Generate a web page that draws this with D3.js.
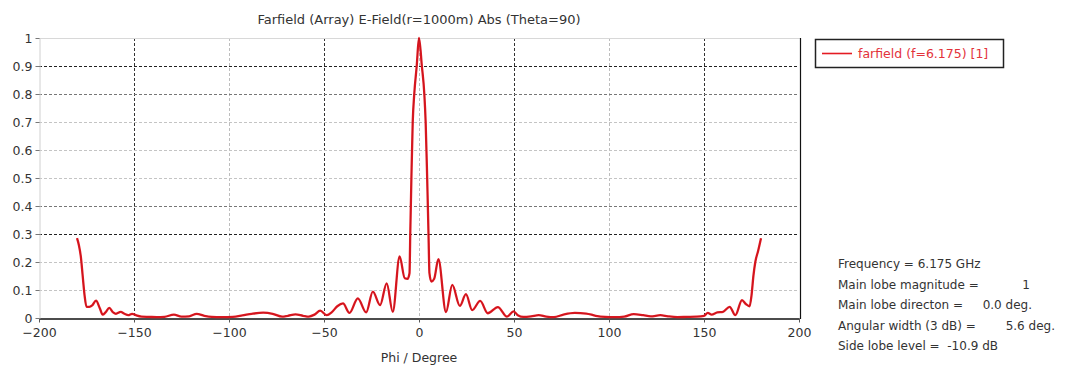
<!DOCTYPE html>
<html>
<head>
<meta charset="utf-8">
<script src="https://cdn.jsdelivr.net/npm/d3@7"></script>
<style>
  html, body { margin: 0; padding: 0; background: #fff; }
  svg { display: block; }
  text { font-family: "DejaVu Sans", sans-serif; white-space: pre; }
</style>
</head>
<body>
<svg id="chart" width="1066" height="370"></svg>
<script>
// Farfield cut at Theta = 90: |E| (normalised) versus Phi in degrees
const phi = [
  -180, -179, -178, -177, -176, -175, -173.5, -172, -170, -168, -166.5, -165, -163, -161, -159.5,
  -157, -155, -153, -151, -149, -146, -142, -138, -134, -129, -125, -121, -117, -113, -109,
  -104, -98, -93, -88, -82, -77, -72, -69, -65, -61, -58, -55, -52, -48.5, -46,
  -43, -40, -36.6, -32.2, -27.8, -24.3, -20.5, -17, -13.8, -10.2, -7.5, -6, -5, -4.6, -4,
  -3.3, -2.5, -1.2, 0, 1.5, 2.8, 3.5, 4.3, 5, 5.5, 6.5, 8, 10.2, 14.2, 17.5,
  21.5, 24.7, 28, 32.2, 36.2, 41.5, 46.3, 49.8, 52, 55, 59, 63, 67, 71, 76,
  82, 88, 93, 98, 103, 108, 113, 118, 122, 127, 131, 136, 141, 146, 150,
  152, 154, 157, 160, 163.5, 166.5, 170, 172, 174, 175, 176, 177, 178.5, 180
];
const farfield = [
  0.285, 0.26, 0.22, 0.15, 0.08, 0.04, 0.04, 0.045, 0.062, 0.035, 0.012, 0.02, 0.036, 0.02, 0.015,
  0.022, 0.015, 0.01, 0.015, 0.01, 0.005, 0.004, 0.003, 0.004, 0.012, 0.005, 0.006, 0.015, 0.008, 0.004,
  0.003, 0.004, 0.009, 0.015, 0.019, 0.015, 0.005, 0.008, 0.013, 0.008, 0.005, 0.012, 0.026, 0.01, 0.02,
  0.042, 0.052, 0.018, 0.07, 0.02, 0.094, 0.046, 0.124, 0.022, 0.22, 0.142, 0.14, 0.16, 0.3, 0.5,
  0.7, 0.8, 0.9, 1.0, 0.9, 0.8, 0.7, 0.5, 0.3, 0.16, 0.13, 0.14, 0.21, 0.021, 0.118,
  0.043, 0.085, 0.028, 0.061, 0.017, 0.039, 0.005, 0.024, 0.01, 0.004, 0.006, 0.01, 0.005, 0.003, 0.012,
  0.018, 0.016, 0.008, 0.004, 0.003, 0.005, 0.014, 0.01, 0.006, 0.01, 0.006, 0.003, 0.004, 0.005, 0.008,
  0.018, 0.012, 0.02, 0.022, 0.04, 0.01, 0.064, 0.05, 0.042, 0.08, 0.15, 0.2, 0.24, 0.285
];

const xTicks = [-200, -150, -100, -50, 0, 50, 100, 150, 200];
const yTicks = [0, 0.1, 0.2, 0.3, 0.4, 0.5, 0.6, 0.7, 0.8, 0.9, 1];

const titleText = "Farfield (Array) E-Field(r=1000m) Abs (Theta=90)";
const xLabel = "Phi / Degree";
const legendLabel = "farfield (f=6.175) [1]";
const infoLabels = ["Frequency = 6.175 GHz", "Main lobe magnitude =", "Main lobe directon =",
                    "Angular width (3 dB) =", "Side lobe level =  -10.9 dB"];
const infoValues = ["", "1", "0.0 deg.", "5.6 deg.", ""];

// Grid emphasis: darker dashed lines at these positions
const gridStrongX = [-150, -50, 50, 150];
const gridStrongY = [0.9, 0.3];
const gridMidY = [0.8, 0.4];

const svg = d3.select("#chart");
const plot = { left: 39, right: 799, top: 38, bottom: 318 };

const x = d3.scaleLinear().domain([-200, 200]).range([plot.left, plot.right]);
const y = d3.scaleLinear().domain([0, 1]).range([plot.bottom, plot.top]);

// vertical grid
svg.append("g").selectAll("line").data(xTicks.filter(d => d > -200 && d < 200)).join("line")
  .attr("x1", d => Math.round(x(d)) + 0.5).attr("x2", d => Math.round(x(d)) + 0.5)
  .attr("y1", plot.top).attr("y2", plot.bottom)
  .attr("stroke", d => gridStrongX.includes(d) ? "#333" : "#bdbdbd")
  .attr("stroke-width", 1)
  .attr("stroke-dasharray", "3,2");

// horizontal grid
svg.append("g").selectAll("line").data(yTicks.filter(d => d > 0 && d < 1)).join("line")
  .attr("x1", plot.left).attr("x2", plot.right)
  .attr("y1", d => Math.round(y(d)) + 0.5).attr("y2", d => Math.round(y(d)) + 0.5)
  .attr("stroke", d => gridStrongY.includes(d) ? "#222" : (gridMidY.includes(d) ? "#777" : "#c4c4c4"))
  .attr("stroke-width", 1)
  .attr("stroke-dasharray", "3,2");

// frame: light top/left, dark bottom/right
svg.append("line").attr("x1", plot.left).attr("x2", plot.right + 1)
  .attr("y1", plot.top + 0.5).attr("y2", plot.top + 0.5).attr("stroke", "#d8d8d8");
svg.append("line").attr("x1", plot.right + 1.5).attr("x2", plot.right + 1.5)
  .attr("y1", plot.top).attr("y2", plot.bottom + 1).attr("stroke", "#111").attr("stroke-width", 1.2);

// axes
const xAxis = svg.append("g").attr("transform", `translate(0,${plot.bottom + 0.5})`)
  .call(d3.axisBottom(x).tickValues(xTicks).tickSize(4).tickSizeOuter(0).tickFormat(d3.format("d")));
xAxis.select(".domain").attr("stroke", "#111").attr("stroke-width", 1.6);
xAxis.selectAll(".tick line").attr("stroke", "#555");
xAxis.selectAll(".tick text").attr("font-size", 12.5).attr("fill", "#333").attr("dy", "0.95em");

const yAxis = svg.append("g").attr("transform", `translate(${plot.left + 0.5},0)`)
  .call(d3.axisLeft(y).tickValues(yTicks).tickSize(4).tickSizeOuter(0)
    .tickFormat(d => d === 0 ? "0" : d === 1 ? "1" : d3.format(".1f")(d)));
yAxis.select(".domain").attr("stroke", "#d0d0d0");
yAxis.selectAll(".tick line").attr("stroke", "#777");
yAxis.selectAll(".tick text").attr("font-size", 12.5).attr("fill", "#333").attr("x", -7);

// farfield curve
const pts = phi.map((p, i) => [p, farfield[i]]);
const line = d3.line().x(d => x(d[0])).y(d => y(d[1])).curve(d3.curveMonotoneX);
svg.append("path").datum(pts).attr("d", line)
  .attr("fill", "none").attr("stroke", "#e41b23").attr("stroke-width", 2.3)
  .attr("stroke-linejoin", "round");
svg.append("path").datum(pts).attr("d", line)
  .attr("fill", "none").attr("stroke", "#9a0a14").attr("stroke-width", 0.7)
  .attr("stroke-opacity", 0.55).attr("stroke-linejoin", "round");

// title and axis label
svg.append("text").attr("x", 419).attr("y", 24).attr("text-anchor", "middle")
  .attr("font-size", 13).attr("fill", "#333").text(titleText);
svg.append("text").attr("x", 419).attr("y", 362).attr("text-anchor", "middle")
  .attr("font-size", 12.5).attr("fill", "#333").text(xLabel);

// legend
const lg = svg.append("g");
lg.append("rect").attr("x", 815.5).attr("y", 39.5).attr("width", 188).attr("height", 28)
  .attr("fill", "#fff").attr("stroke", "#222").attr("stroke-width", 1.5);
lg.append("line").attr("x1", 822).attr("x2", 852).attr("y1", 53.5).attr("y2", 53.5)
  .attr("stroke", "#e41b23").attr("stroke-width", 1.6);
lg.append("text").attr("x", 858).attr("y", 58).attr("font-size", 12.5)
  .attr("fill", "#e3323a").text(legendLabel);

// beam summary
const infoX = 838, infoY0 = 268, infoStep = 20.5;
const valueX = [0, 1030, 1032, 1055, 0];
const info = svg.append("g").attr("font-size", 12).attr("fill", "#333");
infoLabels.forEach((t, i) => {
  info.append("text").attr("x", infoX).attr("y", infoY0 + i * infoStep).text(t);
  if (infoValues[i]) {
    info.append("text").attr("x", valueX[i]).attr("y", infoY0 + i * infoStep)
      .attr("text-anchor", "end").text(infoValues[i]);
  }
});
</script>
</body>
</html>
